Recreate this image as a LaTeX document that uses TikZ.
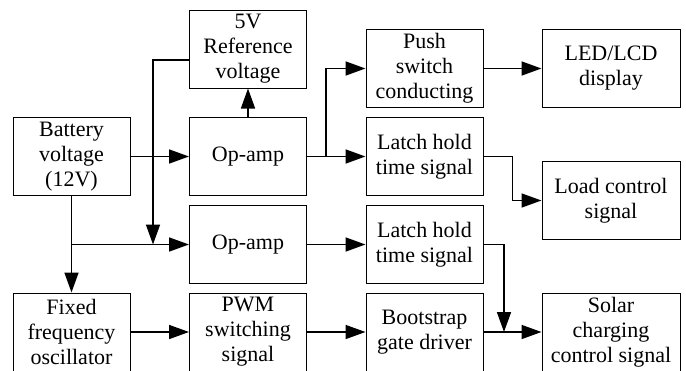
\documentclass[tikz,border=0pt]{standalone}
\usepackage{fontspec}
\setmainfont{Liberation Serif}
\usetikzlibrary{arrows.meta}

\begin{document}
\begin{tikzpicture}[x=0.5pt,y=-0.5pt,
        blockbox/.style={draw=black, line width=0.5pt, inner sep=0pt, minimum width=58.5pt, minimum height=39pt, align=center, font=\fontsize{11}{12.5}\selectfont},
        widebox/.style={blockbox, minimum width=69pt},
        link/.style={line width=0.8pt, -{Triangle[length=10pt,width=7pt]}},
        wire/.style={line width=0.8pt}]
        % Define columns and rows
        \def\colA{71.5}
        \def\colB{248}
        \def\colC{424.5}
        \def\colD{611}
        \def\rowB{156.5}
        \def\rowC{244.5}
        \def\rowD{332}
        \useasboundingbox (0,0) rectangle (686,370);
        % Blocks
        \node[blockbox] (battery) at (\colA,\rowB) {Battery\\voltage\\(12V)};
        \node[blockbox] (oscillator) at (\colA,\rowD) {Fixed\\frequency\\oscillator};
        \node[blockbox] (refv) at (\colB,49) {5V\\Reference\\voltage};
        \node[blockbox] (opampA) at (\colB,\rowB) {Op-amp};
        \node[blockbox] (opampB) at (\colB,\rowC) {Op-amp};
        \node[blockbox] (pwm) at (\colB,\rowD) {PWM\\switching\\signal};
        \node[blockbox] (push) at (\colC,68.5) {Push\\switch\\conducting};
        \node[blockbox] (latchA) at (\colC,\rowB) {Latch hold\\time signal};
        \node[blockbox] (latchB) at (\colC,\rowC) {Latch hold\\time signal};
        \node[blockbox] (bootstrap) at (\colC,\rowD) {Bootstrap\\gate driver};
        \node[widebox] (display) at (\colD,68.5) {LED/LCD\\display};
        \node[widebox] (load) at (\colD,200.5) {Load control\\signal};
        \node[widebox] (solar) at (\colD,\rowD) {Solar\\charging\\control signal};
        % Junctions
        \coordinate (jbat) at (\colA,\rowC);
        \coordinate (jref) at (153,\rowC);
        \coordinate (jopa) at (326,\rowB);
        \coordinate (jsol) at (504,\rowD);
        % Connectors
        \draw[link] (battery) -- (opampA);
        \draw[link] (battery) -- (oscillator);
        \draw[link] (jbat) -- (opampB);
        \draw[link] ([yshift=-5.5pt]refv.west) -| (jref);
        \draw[link] (opampA) -- (refv);
        \draw[wire] (opampA) -- (jopa);
        \draw[link] (jopa) |- (push);
        \draw[link] (jopa) -- (latchA);
        \draw[link] (push) -- (display);
        \draw[link] (latchA.east) -- ++(29,0) |- (load.west);
        \draw[link] (opampB) -- (latchB);
        \draw[link] (latchB.east) -| (jsol);
        \draw[link] (oscillator) -- (pwm);
        \draw[link] (pwm) -- (bootstrap);
        \draw[link] (bootstrap) -- (solar);
    \end{tikzpicture}
\end{document}
